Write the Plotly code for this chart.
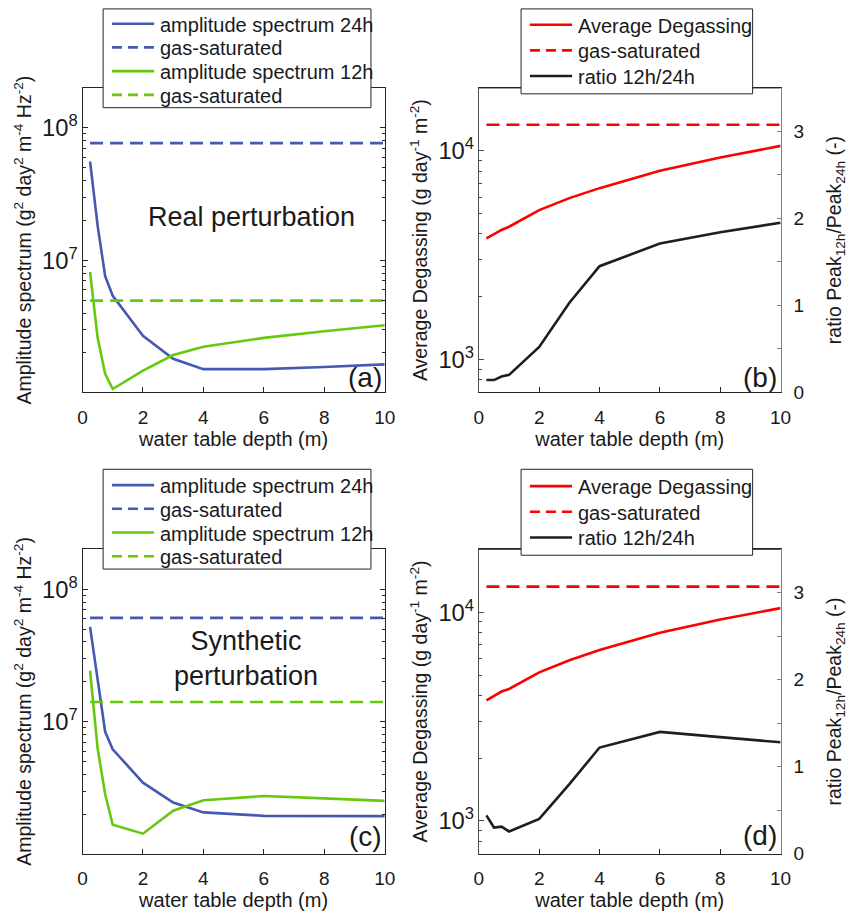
import plotly.graph_objects as go

# Water table depth (m)
depth = [0.25, 0.5, 0.75, 1, 2, 3, 4, 6, 8, 10]

# Real perturbation
real_amp24 = [5.57e7, 1.83e7, 7.6e6, 5.4e6, 2.7e6, 1.81e6, 1.51e6, 1.51e6, 1.57e6, 1.64e6]
real_amp12 = [8.2e6, 2.6e6, 1.39e6, 1.07e6, 1.47e6, 1.93e6, 2.23e6, 2.6e6, 2.92e6, 3.24e6]
real_sat24 = 7.67e7
real_sat12 = 4.97e6
real_degas = [3811, 4000, 4180, 4330, 5200, 5940, 6630, 8030, 9290, 10570]
real_degas_sat = 13360
real_ratio = [0.14, 0.14, 0.18, 0.20, 0.52, 1.03, 1.45, 1.71, 1.84, 1.95]

# Synthetic perturbation
syn_amp24 = [5.2e7, 2.1e7, 8.4e6, 6.2e6, 3.47e6, 2.46e6, 2.07e6, 1.95e6, 1.95e6, 1.94e6]
syn_amp12 = [2.43e7, 6.3e6, 2.84e6, 1.67e6, 1.43e6, 2.13e6, 2.56e6, 2.75e6, 2.64e6, 2.53e6]
syn_sat24 = 6.08e7
syn_sat12 = 1.41e7
syn_degas = [3785, 3990, 4170, 4290, 5150, 5890, 6600, 7980, 9230, 10470]
syn_degas_sat = 13280
syn_ratio = [0.44, 0.30, 0.31, 0.255, 0.40, 0.80, 1.22, 1.40, 1.34, 1.28]

x_ticks = [0, 2, 4, 6, 8, 10]
ratio_ticks = [0, 0.5, 1, 1.5, 2, 2.5, 3, 3.5]
ratio_labels = ["0", "", "1", "", "2", "", "3", ""]

BLUE = "#4559B2"
GREEN = "#66C80F"
RED = "#FF0000"
BLACK = "#1E1E1E"
TXT = "#1A1A1A"
FONT = "Liberation Sans, Arial, Helvetica, sans-serif"
DASH = "13px,7px"

W, H = 848, 915


def px(x):
    return x / W


def py(y):
    return 1 - y / H


fig = go.Figure()


def line(x, y, color, name, xa, ya, dash="solid"):
    fig.add_trace(go.Scatter(
        x=x, y=y, mode="lines", name=name, xaxis=xa, yaxis=ya, showlegend=False,
        line=dict(color=color, width=2.6, dash=dash),
    ))


# (a) real perturbation spectra
line(depth, real_amp24, BLUE, "amplitude spectrum 24h", "x", "y")
line(depth, [real_sat24] * len(depth), BLUE, "gas-saturated", "x", "y", DASH)
line(depth, real_amp12, GREEN, "amplitude spectrum 12h", "x", "y")
line(depth, [real_sat12] * len(depth), GREEN, "gas-saturated", "x", "y", DASH)

# (b) real perturbation degassing and ratio
line(depth, real_degas, RED, "Average Degassing", "x2", "y2")
line(depth, [real_degas_sat] * len(depth), RED, "gas-saturated", "x2", "y2", DASH)
line(depth, real_ratio, BLACK, "ratio 12h/24h", "x2", "y3")

# (c) synthetic perturbation spectra
line(depth, syn_amp24, BLUE, "amplitude spectrum 24h", "x3", "y4")
line(depth, [syn_sat24] * len(depth), BLUE, "gas-saturated", "x3", "y4", DASH)
line(depth, syn_amp12, GREEN, "amplitude spectrum 12h", "x3", "y4")
line(depth, [syn_sat12] * len(depth), GREEN, "gas-saturated", "x3", "y4", DASH)

# (d) synthetic perturbation degassing and ratio
line(depth, syn_degas, RED, "Average Degassing", "x4", "y5")
line(depth, [syn_degas_sat] * len(depth), RED, "gas-saturated", "x4", "y5", DASH)
line(depth, syn_ratio, BLACK, "ratio 12h/24h", "x4", "y6")

# panel geometry (pixels)
LEFT_X = (79, 387)
RIGHT_X = (483, 790.5)
TOP_Y = (89, 397)
BOT_Y = (556, 864)

AX = "#262626"
AX2 = "#7F7F7F"


def xaxis(dom, anchor):
    return dict(
        domain=[px(dom[0]), px(dom[1])], anchor=anchor, range=[0, 10],
        tickvals=x_ticks, ticks="inside", ticklen=5, tickcolor=AX,
        showline=True, linecolor=AX, linewidth=1, mirror="ticks",
        showgrid=False, zeroline=False, ticklabelstandoff=8,
        tickfont=dict(size=19, color=TXT, family=FONT),
        title=dict(text="water table depth (m)", standoff=2,
                   font=dict(size=20, color=TXT, family=FONT)),
    )


def logaxis(dom, anchor, rng, title, mirror, color):
    return dict(
        domain=[py(dom[1]), py(dom[0])], anchor=anchor, type="log", range=rng,
        dtick=1, exponentformat="power", showexponent="all",
        ticks="inside", ticklen=5, tickcolor=color,
        minor=dict(ticks="inside", ticklen=3, tickcolor=color, showgrid=False),
        showline=True, linecolor=color, linewidth=1, mirror=mirror,
        showgrid=False, zeroline=False,
        tickfont=dict(size=19, color=TXT, family=FONT),
        title=dict(text=title, standoff=5,
                   font=dict(size=19.5, color=TXT, family=FONT)),
    )


def ratioaxis(anchor, overlay):
    return dict(
        overlaying=overlay, side="right", anchor=anchor, range=[0, 3.5],
        tickvals=ratio_ticks, ticktext=ratio_labels,
        ticks="inside", ticklen=4, tickcolor=AX2,
        showline=True, linecolor=AX2, linewidth=1,
        showgrid=False, zeroline=False, ticklabelstandoff=8,
        tickfont=dict(size=19, color=TXT, family=FONT),
        title=dict(text="ratio Peak<sub>12h</sub>/Peak<sub>24h</sub> (-)", standoff=24,
                   font=dict(size=19.5, color=TXT, family=FONT)),
    )


amp_title = "Amplitude spectrum (g<sup>2</sup> day<sup>2</sup> m<sup>-4</sup> Hz<sup>-2</sup>)"
deg_title = "Average Degassing (g day<sup>-1</sup> m<sup>-2</sup>)"
amp_range = [6.005, 8.301]
deg_range = [2.843, 4.302]

fig.update_layout(
    width=W, height=H, margin=dict(l=0, r=0, t=0, b=0),
    paper_bgcolor="white", plot_bgcolor="white",
    font=dict(family=FONT, color=TXT),
    showlegend=False,
    xaxis=xaxis(LEFT_X, "y"),
    yaxis=logaxis(TOP_Y, "x", amp_range, amp_title, "ticks", AX),
    xaxis2=xaxis(RIGHT_X, "y2"),
    yaxis2=logaxis(TOP_Y, "x2", deg_range, deg_title, False, "#4D4D4D"),
    yaxis3=ratioaxis("x2", "y2"),
    xaxis3=xaxis(LEFT_X, "y4"),
    yaxis4=logaxis(BOT_Y, "x3", amp_range, amp_title, "ticks", AX),
    xaxis4=xaxis(RIGHT_X, "y5"),
    yaxis5=logaxis(BOT_Y, "x4", deg_range, deg_title, False, "#4D4D4D"),
    yaxis6=ratioaxis("x4", "y5"),
)

# top box edge for the right-hand panels
for xa, ya in (("x2", "y2"), ("x4", "y5")):
    fig.add_shape(type="line", xref=f"{xa} domain", yref=f"{ya} domain",
                  x0=0, x1=1, y0=1, y1=1, line=dict(color=AX, width=1))


# legend boxes: (box left, top, right, bottom), first row y, row step, entries
def legend(box, row0, step, entries):
    x0, y0, x1, y1 = box
    fig.add_shape(type="rect", xref="paper", yref="paper", layer="above",
                  x0=px(x0), x1=px(x1), y0=py(y1), y1=py(y0),
                  fillcolor="white", line=dict(color=AX, width=1))
    for i, (label, color, dash) in enumerate(entries):
        yy = row0 + i * step
        fig.add_shape(type="line", xref="paper", yref="paper", layer="above",
                      x0=px(x0 + 9), x1=px(x0 + 52), y0=py(yy), y1=py(yy),
                      line=dict(color=color, width=2.6, dash=dash))
        fig.add_annotation(text=label, x=px(x0 + 56), y=py(yy + 1), xref="paper", yref="paper",
                           showarrow=False, xanchor="left", yanchor="middle",
                           font=dict(size=20, color=TXT, family=FONT))


spec_entries = [
    ("amplitude spectrum 24h", BLUE, "solid"),
    ("gas-saturated", BLUE, "10px,6px"),
    ("amplitude spectrum 12h", GREEN, "solid"),
    ("gas-saturated", GREEN, "10px,6px"),
]
degas_entries = [
    ("Average Degassing", RED, "solid"),
    ("gas-saturated", RED, "10px,6px"),
    ("ratio 12h/24h", BLACK, "solid"),
]
legend((100, 9, 373, 109), 24, 24, spec_entries)
legend((526, 9, 762, 95), 25, 26, degas_entries)
legend((100, 475, 373, 576), 491, 24, spec_entries)
legend((526, 475, 762, 562), 492, 26, degas_entries)

annots = [
    ("Real perturbation", 251, 220, 27),
    ("Synthetic<br>perturbation", 246, 667, 27),
    ("(a)", 367, 382, 28),
    ("(b)", 770, 382, 28),
    ("(c)", 367, 847, 28),
    ("(d)", 770, 846, 28),
]
for text, x, y, size in annots:
    fig.add_annotation(text=text, x=px(x), y=py(y), xref="paper", yref="paper",
                       showarrow=False, xanchor="center", yanchor="middle",
                       font=dict(size=size, color=TXT, family=FONT))

fig.write_html("out.html")
